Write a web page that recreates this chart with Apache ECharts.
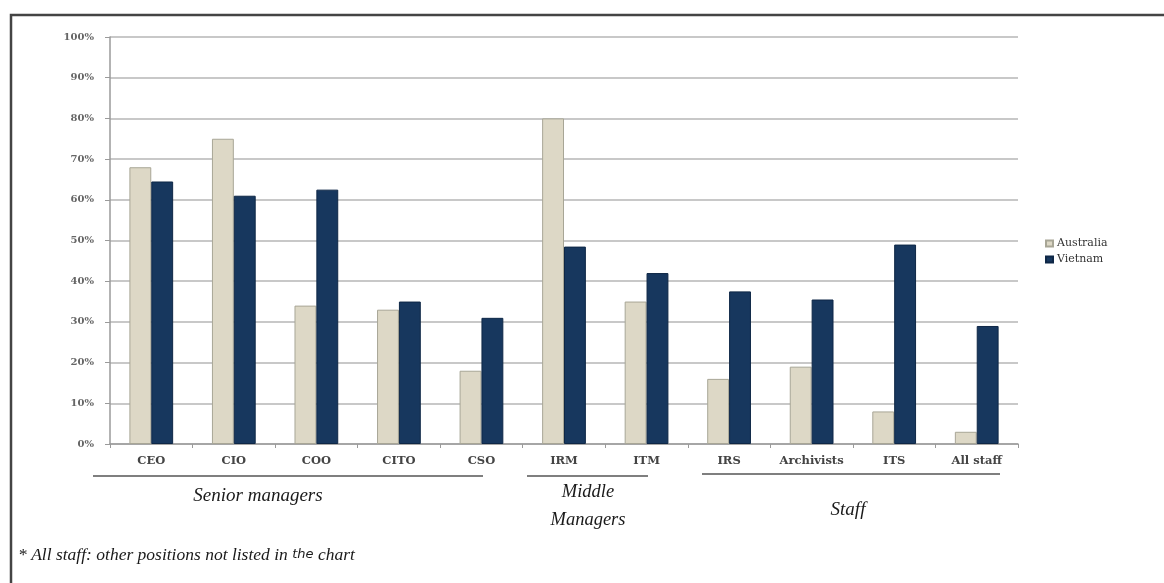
<!DOCTYPE html>
<html>
<head>
<meta charset="utf-8">
<script src="https://cdn.jsdelivr.net/npm/echarts@6/dist/echarts.min.js"></script>
<style>
  html, body { margin: 0; padding: 0; background: #ffffff; }
  #chart { width: 1164px; height: 583px; }
</style>
</head>
<body>
<div id="chart"></div>
<script>
// Positions surveyed in each country
const positions = ['CEO', 'CIO', 'COO', 'CITO', 'CSO', 'IRM', 'ITM', 'IRS', 'Archivists', 'ITS', 'All staff'];
// Share of respondents (%) per position
const australia = [68, 75, 34, 33, 18, 80, 35, 16, 19, 8, 3];
const vietnam = [64.5, 61, 62.5, 35, 31, 48.5, 42, 37.5, 35.5, 49, 29];
// Y-axis tick labels
const yTicks = ['0%', '10%', '20%', '30%', '40%', '50%', '60%', '70%', '80%', '90%', '100%'];
// Position groups shown beneath the axis
const groupNames = ['Senior managers', 'Middle\nManagers', 'Staff'];
const footnote = '* All staff: other positions not listed in ';

const serif = '"Liberation Serif", "DejaVu Serif", serif';
const wideSerif = '"DejaVu Serif", "Liberation Serif", serif';
const chart = echarts.init(document.getElementById('chart'), null, { renderer: 'canvas' });

const option = {
  backgroundColor: '#ffffff',
  animation: false,
  grid: { left: 110, top: 37, right: 146, bottom: 139, containLabel: false },
  legend: {
    orient: 'vertical',
    left: 1040,
    top: 233,
    itemWidth: 7,
    itemHeight: 6,
    itemGap: 5,
    icon: 'rect',
    textStyle: { fontFamily: wideSerif, fontSize: 11, color: '#333', padding: [0, 0, 0, -1] },
    data: ['Australia', 'Vietnam']
  },
  xAxis: {
    type: 'category',
    data: positions,
    axisLine: { lineStyle: { color: '#9a9a9a', width: 1.5 } },
    axisTick: { show: true, length: 4, lineStyle: { color: '#9a9a9a' } },
    axisLabel: { interval: 0, hideOverlap: false, fontFamily: wideSerif, fontSize: 11.5, color: '#444', fontWeight: 'bold', margin: 11 }
  },
  yAxis: {
    type: 'value',
    min: 0,
    max: 100,
    interval: 10,
    axisLine: { show: true, lineStyle: { color: '#9a9a9a', width: 1.5 } },
    axisTick: { show: true, length: 5, lineStyle: { color: '#9a9a9a' } },
    splitLine: { lineStyle: { color: '#c8c8c8', width: 2 } },
    axisLabel: {
      fontFamily: wideSerif, fontSize: 10, color: '#666', fontWeight: 'bold', margin: 16,
      formatter: (v) => yTicks[Math.round(v / 10)]
    }
  },
  series: [
    {
      name: 'Australia',
      type: 'bar',
      data: australia,
      barGap: '0%',
      barCategoryGap: '47%',
      itemStyle: { color: '#ddd8c6', borderColor: '#a8a696', borderWidth: 1 }
    },
    {
      name: 'Vietnam',
      type: 'bar',
      data: vietnam,
      itemStyle: { color: '#17375e', borderColor: '#0e2746', borderWidth: 1 }
    }
  ],
  graphic: [
    // outer frame
    { type: 'polyline', shape: { points: [[11, 600], [11, 15], [1180, 15]] },
      style: { stroke: '#444', lineWidth: 2.5, fill: null } },
    // group underlines
    { type: 'line', shape: { x1: 93, y1: 476, x2: 483, y2: 476 }, style: { stroke: '#555', lineWidth: 1.5 } },
    { type: 'line', shape: { x1: 527, y1: 476, x2: 648, y2: 476 }, style: { stroke: '#555', lineWidth: 1.5 } },
    { type: 'line', shape: { x1: 702, y1: 474, x2: 1000, y2: 474 }, style: { stroke: '#555', lineWidth: 1.5 } },
    // group names
    { type: 'text', x: 258, y: 496, style: { text: groupNames[0], fontFamily: serif, fontStyle: 'italic', fontSize: 19, fill: '#1a1a1a', align: 'center', verticalAlign: 'middle' } },
    { type: 'text', x: 588, y: 506, style: { text: groupNames[1], fontFamily: serif, fontStyle: 'italic', fontSize: 18.5, lineHeight: 28, fill: '#1a1a1a', align: 'center', verticalAlign: 'middle' } },
    { type: 'text', x: 848, y: 510, style: { text: groupNames[2], fontFamily: serif, fontStyle: 'italic', fontSize: 19, fill: '#1a1a1a', align: 'center', verticalAlign: 'middle' } },
    // footnote
    { type: 'text', x: 18, y: 555, style: {
        text: '{a|' + footnote + '}{b|the}{a| chart}',
        verticalAlign: 'middle',
        rich: {
          a: { fontFamily: serif, fontStyle: 'italic', fontSize: 17.5, fill: '#1a1a1a' },
          b: { fontFamily: '"DejaVu Sans", sans-serif', fontStyle: 'italic', fontSize: 13, fill: '#1a1a1a' }
        }
      } }
  ]
};

chart.setOption(option);
</script>
</body>
</html>
